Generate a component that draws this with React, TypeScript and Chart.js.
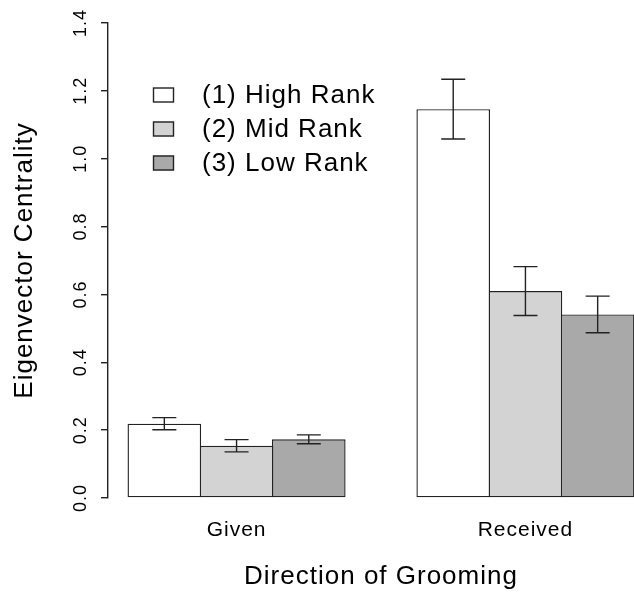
import React, { useEffect, useRef } from 'react';
import { Chart, registerables } from 'chart.js';

Chart.register(...registerables);

// Groups along the x axis, placed at barplot-style unit positions
const groups = ['Given', 'Received'];
const groupCenters = [2.5, 6.5];

// Ranks (one dataset each)
const rankLabels = ['(1) High Rank', '(2) Mid Rank', '(3) Low Rank'];
const rankColors = ['#ffffff', '#d3d3d3', '#a9a9a9'];

// Mean eigenvector centrality per group
const highRank = [0.219, 1.146];
const midRank = [0.154, 0.61];
const lowRank = [0.173, 0.541];

// Standard errors per group
const highErr = [0.018, 0.088];
const midErr = [0.018, 0.072];
const lowErr = [0.013, 0.054];

const yTicks = [0, 0.2, 0.4, 0.6, 0.8, 1.0, 1.2, 1.4];

const FONT = '"Liberation Sans", Arial, Helvetica, sans-serif';
const INK = '#222222';
const LINE = 1.4;

const textSpacing = {
  id: 'textSpacing',
  beforeUpdate(chart: any) {
    chart.ctx.letterSpacing = '1px';
  },
  beforeDraw(chart: any) {
    chart.ctx.letterSpacing = '1px';
  },
};

const errorBars = {
  id: 'errorBars',
  afterDatasetsDraw(chart: any) {
    const { ctx } = chart;
    const yScale = chart.scales.y;
    ctx.save();
    ctx.strokeStyle = INK;
    ctx.lineWidth = LINE;
    chart.data.datasets.forEach((ds: any, di: number) => {
      const meta = chart.getDatasetMeta(di);
      meta.data.forEach((bar: any, i: number) => {
        const v = ds.data[i].y;
        const e = ds.errors[i];
        const top = yScale.getPixelForValue(v + e);
        const bot = yScale.getPixelForValue(v - e);
        const x = bar.x;
        const half = 12;
        ctx.beginPath();
        ctx.moveTo(x, top);
        ctx.lineTo(x, bot);
        ctx.moveTo(x - half, top);
        ctx.lineTo(x + half, top);
        ctx.moveTo(x - half, bot);
        ctx.lineTo(x + half, bot);
        ctx.stroke();
      });
    });
    ctx.restore();
  },
};

const rankLegend = {
  id: 'rankLegend',
  afterDraw(chart: any) {
    const { ctx, chartArea } = chart;
    const x0 = chartArea.left + 45;
    const y0 = chartArea.top + 72;
    ctx.save();
    ctx.letterSpacing = '1px';
    ctx.font = `26px ${FONT}`;
    ctx.textBaseline = 'middle';
    ctx.textAlign = 'left';
    chart.data.datasets.forEach((ds: any, i: number) => {
      const cy = y0 + i * 34;
      ctx.fillStyle = ds.backgroundColor;
      ctx.fillRect(x0, cy - 7.5, 21, 15);
      ctx.strokeStyle = INK;
      ctx.lineWidth = LINE;
      ctx.strokeRect(x0 + 0.5, cy - 7, 20, 14);
      ctx.fillStyle = '#000';
      ctx.fillText(ds.label, x0 + 49, cy + 1);
    });
    ctx.restore();
  },
};

export default function App() {
  const canvasRef = useRef<HTMLCanvasElement | null>(null);

  useEffect(() => {
    document.body.style.margin = '0';
    document.body.style.overflow = 'hidden';
    const canvas = canvasRef.current;
    if (!canvas) return;
    Chart.defaults.font.family = FONT;
    Chart.defaults.color = '#000';

    const series = [highRank, midRank, lowRank];
    const errs = [highErr, midErr, lowErr];

    const chart = new Chart(canvas, {
      type: 'bar',
      data: {
        datasets: series.map((vals, k) => ({
          label: rankLabels[k],
          data: vals.map((v, i) => ({ x: groupCenters[i], y: v })),
          errors: errs[k],
          backgroundColor: rankColors[k],
          borderColor: INK,
          borderWidth: LINE,
          borderSkipped: false,
          categoryPercentage: 0.75,
          // neighbouring bars overlap by one border width so shared edges draw once
          barPercentage: (72.2 + LINE) / 72.2,
        })) as any,
      },
      options: {
        animation: false,
        responsive: false,
        maintainAspectRatio: false,
        layout: { padding: { left: 0, top: 23, right: 26, bottom: 0 } },
        plugins: {
          legend: { display: false },
          tooltip: { enabled: false },
        },
        scales: {
          x: {
            type: 'linear',
            min: 0.72,
            max: 8.28,
            offset: false,
            afterBuildTicks(scale: any) {
              scale.ticks = groupCenters.map((v) => ({ value: v }));
            },
            ticks: {
              callback: (_v: any, i: number) => groups[i],
              font: { size: 21 },
              color: '#000',
              padding: 20,
              autoSkip: false,
              maxRotation: 0,
              minRotation: 0,
            },
            grid: { display: false, drawTicks: false, offset: false },
            border: { display: false },
            title: {
              display: true,
              text: 'Direction of Grooming',
              font: { size: 26 },
              color: '#000',
              padding: { top: 0, bottom: 2 },
            },
            afterFit(scale: any) {
              scale.height = 96;
            },
          },
          y: {
            min: 0,
            max: 1.4,
            afterBuildTicks(scale: any) {
              scale.ticks = yTicks.map((v) => ({ value: v }));
            },
            ticks: {
              callback: (v: any) => Number(v).toFixed(1),
              font: { size: 18 },
              color: '#000',
              padding: 6,
              minRotation: 90,
              maxRotation: 90,
              crossAlign: 'center',
              autoSkip: false,
            },
            grid: {
              drawOnChartArea: false,
              drawTicks: true,
              tickLength: 7,
              color: INK,
              lineWidth: LINE,
            },
            border: { display: true, color: INK, width: LINE },
            title: {
              display: true,
              text: 'Eigenvector Centrality',
              font: { size: 26 },
              color: '#000',
              padding: { top: 9, bottom: 0 },
            },
            afterFit(scale: any) {
              scale.width = 108;
            },
          },
        } as any,
      },
      plugins: [textSpacing, errorBars, rankLegend],
    });

    return () => chart.destroy();
  }, []);

  return (
    <div style={{ width: 634, height: 594, overflow: 'hidden', position: 'relative', background: '#fff' }}>
      <canvas
        ref={canvasRef}
        width={680}
        height={594}
        style={{ display: 'block', width: 680, height: 594 }}
      />
    </div>
  );
}
